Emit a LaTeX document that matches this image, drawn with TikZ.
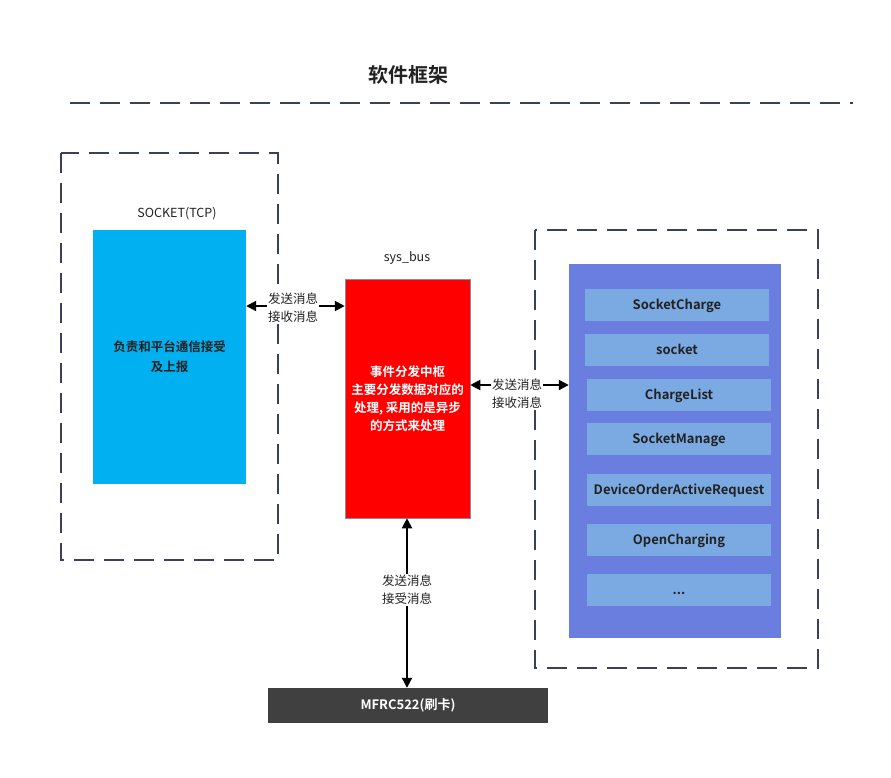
\documentclass[tikz,border=0pt]{standalone}
\usepackage{fontspec}
\setmainfont{Noto Sans CJK SC}
\newfontfamily\cjkb{Noto Sans CJK SC Bold}
\usetikzlibrary{arrows.meta}
\definecolor{dashc}{HTML}{3A3F5C}
\definecolor{bluebox}{HTML}{00B0F0}
\definecolor{purplebox}{HTML}{6A7EE0}
\definecolor{innerbox}{HTML}{7BAAE2}
\definecolor{darkbox}{HTML}{404040}
\definecolor{txt}{HTML}{222222}
\tikzset{
  dashframe/.style={draw=dashc, line width=1.3pt, dash pattern=on 20pt off 10pt},
  inner/.style={fill=innerbox, draw=none, minimum width=184pt, minimum height=32pt, font=\cjkb\fontsize{13}{15}\selectfont, text=txt, text height=9.5pt, text depth=0pt},
  conn/.style={line width=2pt, {Triangle[length=10pt,width=10pt]}-{Triangle[length=10pt,width=10pt]}, draw=black},
  lbl/.style={fill=white, inner sep=1pt, align=center, font=\fontsize{12.5}{18}\selectfont, text=txt},
  plain/.style={font=\fontsize{12.5}{14}\selectfont, text=txt}
}
\begin{document}
\begin{tikzpicture}[x=1pt,y=-1pt]
\useasboundingbox (0,0) rectangle (891,777);
\node[font=\cjkb\fontsize{20}{22}\selectfont, text=txt] (title) at (408,75) {软件框架};
\draw[dashframe] (70,103) -- (853,103);
% left frame
\draw[dashframe] (61,153) rectangle (278,560);
\node[plain] (socklbl) at (177,214) {SOCKET(TCP)};
\node[fill=bluebox, minimum width=153pt, minimum height=254pt, inner sep=0pt, align=center, font=\cjkb\fontsize{12.5}{20}\selectfont, text=txt] (sock) at (169.5,357) {负责和平台通信接受\\及上报};
% sys bus
\node[plain] (buslbl) at (407,258) {sys\_bus};
\node[fill=red, draw=dashc!60, line width=0.5pt, minimum width=125pt, minimum height=239pt, inner sep=0pt, align=center, font=\cjkb\fontsize{12.5}{18}\selectfont, text=white] (bus) at (407.5,398.5) {事件分发中枢\\主要分发数据对应的\\处理, 采用的是异步\\的方式来处理};
% right frame
\draw[dashframe] (535,230) rectangle (818,668);
\node[fill=purplebox, minimum width=212pt, minimum height=374pt, inner sep=0pt] (mods) at (675,451) {};
\node[inner] (m1) at (677,305) {SocketCharge};
\node[inner] (m2) at (677,350) {socket};
\node[inner] (m3) at (679,395) {ChargeList};
\node[inner] (m4) at (679,439) {SocketManage};
\node[inner] (m5) at (679,490) {DeviceOrderActiveRequest};
\node[inner] (m6) at (679,540) {OpenCharging};
\node[inner] (m7) at (679,590) {...};
% MFRC
\node[fill=darkbox, minimum width=280pt, minimum height=35pt, inner sep=0pt, font=\cjkb\fontsize{13}{15}\selectfont, text=white] (mfrc) at (408,705.5) {MFRC522(刷卡)};
% connectors
\draw[conn] (sock.east |- 0,306) -- (bus.west |- 0,306);
\node[lbl] (l1) at (293,308) {发送消息\\接收消息};
\draw[conn] (bus.east |- 0,385) -- (mods.west |- 0,385);
\node[lbl] (l2) at (517,394) {发送消息\\接收消息};
\draw[conn] (bus.south -| 407,0) -- (mfrc.north -| 407,0);
\node[lbl] (l3) at (407,590) {发送消息\\接受消息};
\end{tikzpicture}
\end{document}
